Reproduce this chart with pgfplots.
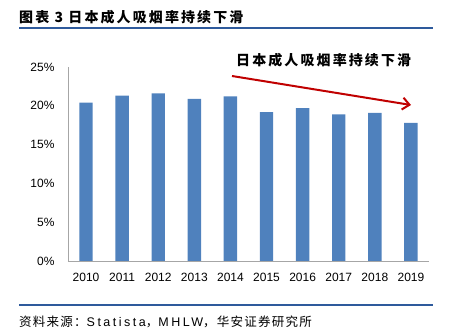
\documentclass[border=0pt]{standalone}
\usepackage{pgfplots}
\pgfplotsset{compat=1.18}
\usepackage{fontspec}
\setmainfont{Liberation Sans}
\newfontfamily\cjk[LetterSpace=10]{Noto Sans CJK SC}
\newfontfamily\srclat[LetterSpace=20]{Liberation Sans}
\newfontfamily\cjkt[LetterSpace=15]{Noto Sans CJK SC}
\usetikzlibrary{arrows.meta}
\definecolor{barblue}{HTML}{4F81BD}
\definecolor{rule}{HTML}{2E5A9C}
\definecolor{arrred}{HTML}{C00000}
\begin{document}
\begin{tikzpicture}
\useasboundingbox (0pt,0pt) rectangle (451pt,335pt);
% title
\node[anchor=west,inner sep=0pt] at (19pt,318pt) {\fontsize{14}{16}\selectfont\cjkt\bfseries 图表 3 日本成人吸烟率持续下滑};
\draw[rule,line width=2pt] (19pt,307pt) -- (433pt,307pt);
% source
\draw[rule,line width=2pt] (19pt,29.5pt) -- (433pt,29.5pt);
\node[anchor=west,inner sep=0pt] at (19pt,13pt) {\fontsize{12.5}{14}\selectfont{\cjk 资料来源：}{\srclat Statista}{\cjk ，}{\srclat MHLW}{\cjk ，华安证券研究所}};
\begin{axis}[
  at={(68pt,74pt)}, anchor=south west,
  scale only axis, width=361pt, height=194pt,
  xmin=-0.5, xmax=9.5, ymin=0, ymax=25,
  xtick={0,...,9},
  xticklabels={2010,2011,2012,2013,2014,2015,2016,2017,2018,2019},
  ytick={0,5,10,15,20,25},
  yticklabel={\pgfmathprintnumber{\tick}\%},
  /pgf/number format/assume math mode=true,
  ticklabel style={font=\fontsize{12}{14}\selectfont},
  major tick length=0pt,
  axis x line*=bottom, axis y line*=left,
  axis line style={draw=black!35, line width=0.8pt},
  x axis line style={-}, y axis line style={-},
  xticklabel style={yshift=-9pt},
  yticklabel style={xshift=-10pt},
  clip=false,
]
\addplot[ybar, bar width=13.4pt, fill=barblue, draw=none] coordinates {
(0,20.4) (1,21.3) (2,21.6) (3,20.9) (4,21.2) (5,19.2) (6,19.7) (7,18.9) (8,19.1) (9,17.8)};
\end{axis}
\node[anchor=west,inner sep=0pt] at (236pt,275pt) {\fontsize{14}{16}\selectfont\cjkt\bfseries 日本成人吸烟率持续下滑};
\draw[arrred, line width=2pt, -{Straight Barb[length=7pt,width=12pt]}] (232pt,259pt) -- (411pt,230pt);
\end{tikzpicture}
\end{document}
